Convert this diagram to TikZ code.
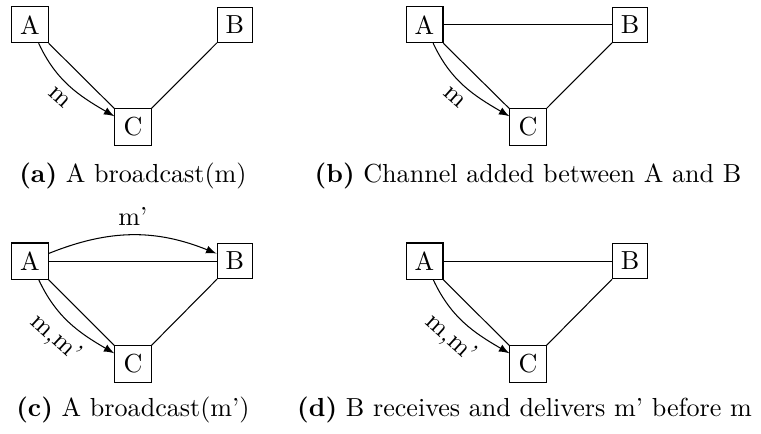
\documentclass[tikz,border=0pt]{standalone}
\begin{document}
\begin{tikzpicture}[proc/.style={draw,rectangle},>=latex]
        \useasboundingbox (0,0) rectangle (10.25,5.833);
        %(a)
        \node[proc] (a1) at (0.404,5.50) {A};
        \node[proc] (b1) at (3.165,5.50) {B};
        \node[proc] (c1) at (1.791,4.122) {C};
        \draw (a1) -- (c1);
        \draw (b1) -- (c1);
        \draw[->] (a1) to[out=-65,in=150] node[sloped,below] {m} (c1);
        \node (capa) at (1.791,3.462) {\textbf{(a)} A broadcast(m)};
        
        %(b)
        \node[proc] (a2) at (5.718,5.50) {A};
        \node[proc] (b2) at (8.486,5.50) {B};
        \node[proc] (c2) at (7.112,4.122) {C};
        \draw (a2) -- (b2);
        \draw (a2) -- (c2);
        \draw (b2) -- (c2);
        \draw[->] (a2) to[out=-65,in=150] node[sloped,below] {m} (c2);
        \node (capb) at (7.112,3.462) {\textbf{(b)} Channel added between A and B};
        
        %(c)
        \node[proc] (a3) at (0.404,2.317) {A};
        \node[proc] (b3) at (3.165,2.317) {B};
        \node[proc] (c3) at (1.791,0.929) {C};
        \draw (a3) -- (b3);
        \draw (a3) -- (c3);
        \draw (b3) -- (c3);
        \draw[->] (a3) to[out=-65,in=150] node[sloped,below] {m,m'} (c3);
        \draw[->] (a3) to[bend left=22] node[above] {m'} (b3);
        \node (capc) at (1.791,0.310) {\textbf{(c)} A broadcast(m')};
        
        %(d)
        \node[proc] (a4) at (5.718,2.317) {A};
        \node[proc] (b4) at (8.486,2.317) {B};
        \node[proc] (c4) at (7.112,0.929) {C};
        \draw (a4) -- (b4);
        \draw (a4) -- (c4);
        \draw (b4) -- (c4);
        \draw[->] (a4) to[out=-65,in=150] node[sloped,below] {m,m'} (c4);
        \node (capd) at (7.065,0.310) {\textbf{(d)} B receives and delivers m' before m};
        
    \end{tikzpicture}
\end{document}
